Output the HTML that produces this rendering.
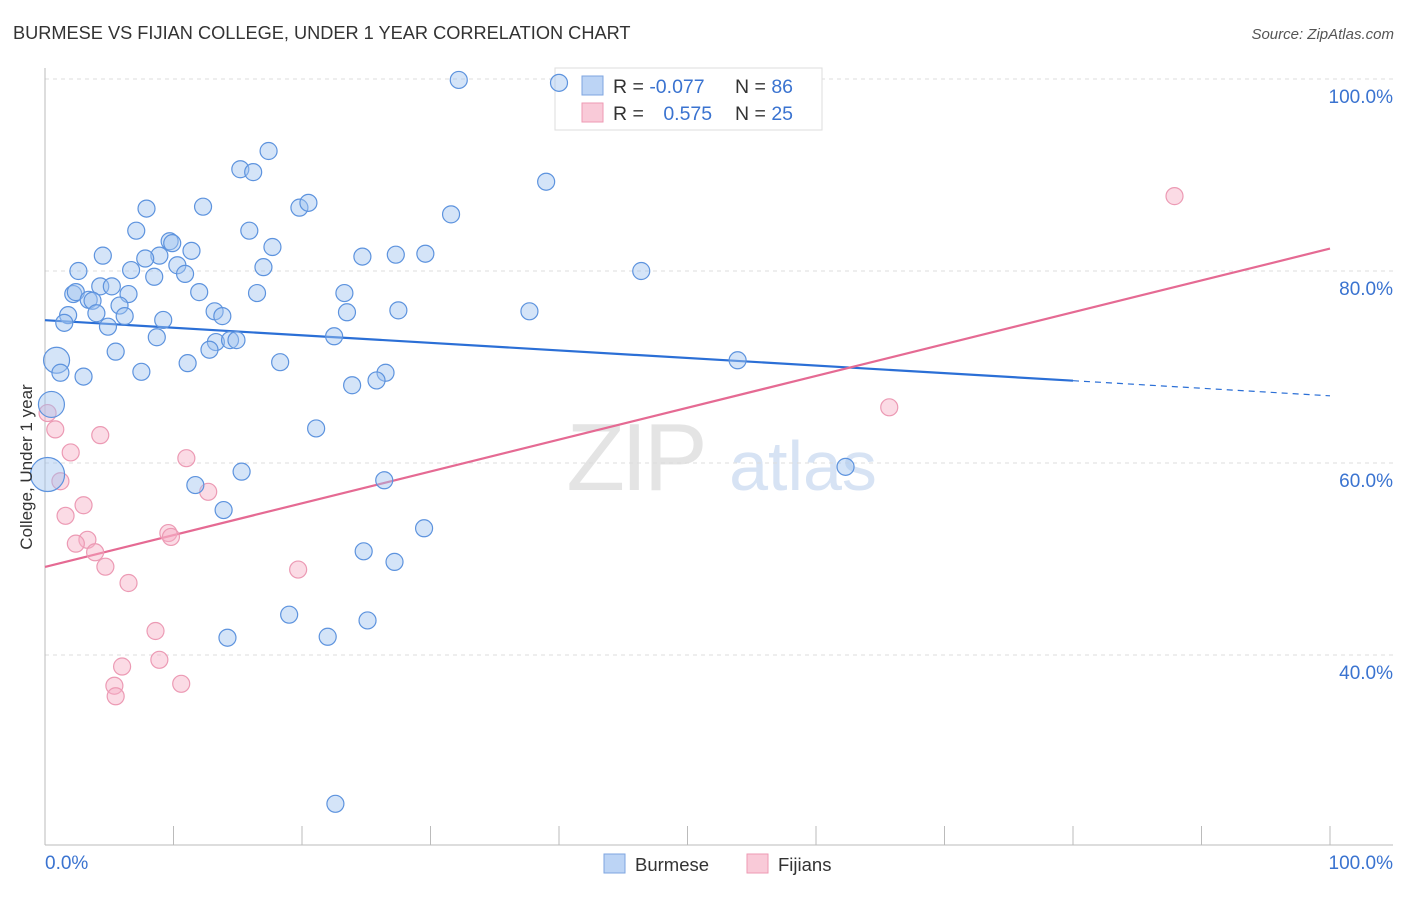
<!DOCTYPE html>
<html><head><meta charset="utf-8"><style>
body{margin:0;background:#fff;font-family:"Liberation Sans",sans-serif;}
svg text{font-family:"Liberation Sans",sans-serif;}
</style></head><body>
<svg id="chart" width="1406" height="892" xmlns="http://www.w3.org/2000/svg">
<text x="13" y="39" font-size="18.2" fill="#333">BURMESE VS FIJIAN COLLEGE, UNDER 1 YEAR CORRELATION CHART</text>
<text x="1394" y="39" font-size="15" fill="#555" text-anchor="end" font-style="italic">Source: ZipAtlas.com</text>
<g>
<text x="635" y="490" font-size="96" fill="#e4e4e4" text-anchor="middle" font-family="Liberation Serif" letter-spacing="-4">ZIP</text>
<text x="803" y="490" font-size="70" fill="#d7e3f4" text-anchor="middle">atlas</text>
</g>
<g id="grid"></g>
<g id="axes"></g>
<g>
<rect x="555" y="68" width="267" height="62" fill="#fff" stroke="#ddd"/>
<rect x="582" y="76" width="21" height="19" fill="#bcd4f5" stroke="#7ea5e0"/>
<rect x="582" y="103" width="21" height="19" fill="#f9cad8" stroke="#ee9ab3"/>
<text x="613" y="93" font-size="19.5" fill="#333">R = <tspan fill="#3a73d0">-0.077</tspan></text>
<text x="735" y="93" font-size="19.5" fill="#333">N = <tspan fill="#3a73d0">86</tspan></text>
<text x="613" y="120" font-size="19.5" fill="#333">R = <tspan fill="#3a73d0" dx="14">0.575</tspan></text>
<text x="735" y="120" font-size="19.5" fill="#333">N = <tspan fill="#3a73d0">25</tspan></text>
</g>
<g id="lines"></g>
<g id="pts"></g>
<text x="20" y="455" font-size="17" fill="#333" transform="rotate(-90 32 455)" text-anchor="middle">College, Under 1 year</text>
<text x="45" y="869" font-size="19" fill="#3a73d0">0.0%</text>
<text x="1393" y="869" font-size="19" fill="#3a73d0" text-anchor="end">100.0%</text>
<g>
<rect x="604" y="854" width="21" height="19" fill="#bcd4f5" stroke="#7ea5e0"/>
<text x="635" y="871" font-size="18.5" fill="#333">Burmese</text>
<rect x="747" y="854" width="21" height="19" fill="#f9cad8" stroke="#ee9ab3"/>
<text x="778" y="871" font-size="18.5" fill="#333">Fijians</text>
</g>
</svg>
<script>
const yTicks=[100,80,60,40];
const yTickLabels=["100.0%","80.0%","60.0%","40.0%"];
const xTicks=[0,10,20,30,40,50,60,70,80,90,100];
const burmeseX=[32.2,40.0,17.4,15.2,16.2,39.0,7.9,12.3,19.8,20.5,31.6,7.1,15.9,9.7,9.9,11.4,8.9,7.8,4.5,17.7,24.7,27.3,29.6,2.6,6.7,10.3,10.9,8.5,17.0,46.4,2.2,2.4,4.3,5.2,6.5,3.4,3.7,12.0,16.5,23.3,5.8,1.8,4.0,6.2,13.2,13.8,23.5,27.5,37.7,1.5,4.9,9.2,8.7,13.3,14.4,14.9,12.8,22.5,5.5,0.9,1.2,3.0,7.5,11.1,18.3,53.9,26.5,25.8,23.9,0.5,21.1,0.2,15.3,62.3,11.7,26.4,13.9,29.5,24.8,27.2,19.0,25.1,14.2,22.0,22.6];
const burmeseY=[99.9,99.6,92.5,90.6,90.3,89.3,86.5,86.7,86.6,87.1,85.9,84.2,84.2,83.1,82.9,82.1,81.6,81.3,81.6,82.5,81.5,81.7,81.8,80.0,80.1,80.6,79.7,79.4,80.4,80.0,77.6,77.8,78.4,78.4,77.6,77.0,76.9,77.8,77.7,77.7,76.4,75.4,75.6,75.3,75.8,75.3,75.7,75.9,75.8,74.6,74.2,74.9,73.1,72.6,72.8,72.8,71.8,73.2,71.6,70.7,69.4,69.0,69.5,70.4,70.5,70.7,69.4,68.6,68.1,66.1,63.6,58.8,59.1,59.6,57.7,58.2,55.1,53.2,50.8,49.7,44.2,43.6,41.8,41.9,24.5];
const fijiX=[87.9,65.7,0.2,0.8,4.3,2.0,11.0,1.2,12.7,3.0,1.6,9.6,9.8,3.3,2.4,3.9,4.7,19.7,6.5,8.6,8.9,6.0,10.6,5.4,5.5];
const fijiY=[87.8,65.8,65.2,63.5,62.9,61.1,60.5,58.1,57.0,55.6,54.5,52.7,52.3,52.0,51.6,50.7,49.2,48.9,47.5,42.5,39.5,38.8,37.0,36.8,35.7];
const NS="http://www.w3.org/2000/svg";
const X0=45,X1=1330,YTOP=79,PPU=9.6;
function sx(v){return X0+(X1-X0)*v/100;}
function sy(v){return YTOP+(100-v)*PPU;}
function mk(tag,attrs,parent){const e=document.createElementNS(NS,tag);for(const k in attrs)e.setAttribute(k,attrs[k]);parent.appendChild(e);return e;}
const grid=document.getElementById('grid'),axes=document.getElementById('axes'),lines=document.getElementById('lines'),pts=document.getElementById('pts');
yTicks.forEach((t,i)=>{
 const l=mk('line',{x1:45,x2:1393,y1:sy(t),y2:sy(t),stroke:'#ddd','stroke-dasharray':'4 4'},grid);
 
 
 const tx=mk('text',{x:1393,y:sy(t)+24,'font-size':19,fill:'#3a73d0','text-anchor':'end'},grid);
 tx.textContent=yTickLabels[i];
 
 
});
const ya=mk('line',{x1:45,x2:45,y1:68,y2:845,stroke:'#bbb'},axes);


const xa=mk('line',{x1:45,x2:1393,y1:845,y2:845,stroke:'#bbb'},axes);


xTicks.forEach(t=>{
 const l=mk('line',{x1:sx(t),x2:sx(t),y1:826,y2:845,stroke:'#bbb'},axes);
 
 
});
function reg(xs,ys){const n=xs.length;let mx=0,my=0;for(let i=0;i<n;i++){mx+=xs[i];my+=ys[i];}mx/=n;my/=n;let sxy=0,sxx=0;for(let i=0;i<n;i++){sxy+=(xs[i]-mx)*(ys[i]-my);sxx+=(xs[i]-mx)**2;}const b=sxy/sxx;return[my-b*mx,b];}
const rb=reg(burmeseX,burmeseY),rf=reg(fijiX,fijiY);
const bl=mk('line',{x1:sx(0),y1:sy(rb[0]),x2:sx(80),y2:sy(rb[0]+80*rb[1]),stroke:'#2b6fd6','stroke-width':2.2},lines);


const bd=mk('line',{x1:sx(80),y1:sy(rb[0]+80*rb[1]),x2:sx(100),y2:sy(rb[0]+100*rb[1]),stroke:'#2b6fd6','stroke-width':1.2,'stroke-dasharray':'6 5'},lines);


const fl=mk('line',{x1:sx(0),y1:sy(rf[0]),x2:sx(100),y2:sy(rf[0]+100*rf[1]),stroke:'#e56a93','stroke-width':2.2},lines);


fijiX.forEach((x,i)=>{
 const c=mk('circle',{cx:sx(x),cy:sy(fijiY[i]),r:8.5,fill:'rgba(246,176,198,0.45)',stroke:'#ec9ab4','stroke-width':1.2},pts);
 
 
});
burmeseX.forEach((x,i)=>{
 const big=x<1.0&&burmeseY[i]<71;
 const c=mk('circle',{cx:sx(x),cy:sy(burmeseY[i]),r:big?(x<0.4?17:13):8.5,fill:'rgba(160,195,240,0.45)',stroke:'#5d93de','stroke-width':1.2},pts);
 
 
});
</script>
</body></html>
